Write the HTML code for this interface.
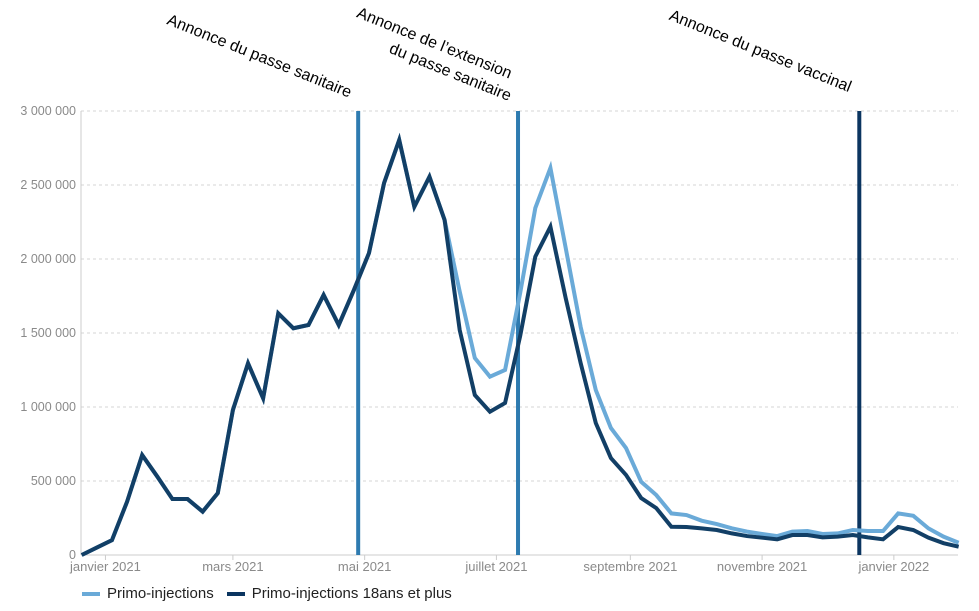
<!DOCTYPE html>
<html><head><meta charset="utf-8"><style>
body{margin:0;background:#fff;width:979px;height:611px;overflow:hidden;font-family:"Liberation Sans",sans-serif}
.ann{position:absolute;font-size:16px;color:#000;white-space:nowrap;transform:translate(-50%,-50%) rotate(22deg)}
</style></head><body>
<div class="ann" style="left:259px;top:57px">Annonce du passe sanitaire</div>
<div class="ann" style="left:434px;top:44px">Annonce de l’extension</div>
<div class="ann" style="left:450px;top:73px">du passe sanitaire</div>
<div class="ann" style="left:760px;top:52px">Annonce du passe vaccinal</div>
<svg id="chart" width="979" height="611" style="position:absolute;left:0;top:0"></svg>
<script>
const yTicks=[0,500000,1000000,1500000,2000000,2500000,3000000];
const yTickLabels=["0","500 000","1 000 000","1 500 000","2 000 000","2 500 000","3 000 000"];
const xTickDays=[11,70,131,192,254,315,376];
const xTickLabels=["janvier 2021","mars 2021","mai 2021","juillet 2021","septembre 2021","novembre 2021","janvier 2022"];
const eventDays=[128,202,360];
const dark=[0,50,100,360,675,530,378,378,293,418,980,1295,1059,1633,1532,1554,1757,1554,1790,2040,2514,2804,2353,2556,2264,1520,1081,968,1027,1480,2016,2218,1740,1297,892,655,541,385,317,191,189,180,169,146,128,117,106,135,135,119,124,135,119,106,189,169,117,80,56];
const light=[0,50,100,360,675,530,378,378,293,418,980,1295,1059,1633,1532,1554,1757,1554,1790,2040,2514,2804,2353,2556,2264,1780,1331,1205,1250,1770,2344,2615,2080,1541,1115,858,723,495,405,281,270,232,209,180,158,142,128,158,162,142,146,169,162,162,281,265,180,124,83];
const ns="http://www.w3.org/2000/svg",svg=document.getElementById('chart');
const x0=81.7,pxDay=2.16,y0=555,y1=111;
const xd=d=>x0+d*pxDay, xi=i=>x0+i*15.12, y=v=>y0-(v/3000000)*(y0-y1);
function mk(t,a){const e=document.createElementNS(ns,t);for(const k in a)e.setAttribute(k,a[k]);svg.appendChild(e);return e;}
yTicks.forEach((v,i)=>{
 if(v>0){const g=mk('line',{x1:81,x2:958,y1:y(v),y2:y(v),stroke:'#d4d4d4','stroke-dasharray':'3,3'});
 }
 const t=mk('text',{x:76,y:y(v)+4,'text-anchor':'end','font-size':12.5,fill:'#8a8a8a'});t.textContent=yTickLabels[i];
 
});
const ax=mk('line',{x1:81,x2:958,y1:555,y2:555,stroke:'#ccc'});

const ay=mk('line',{x1:81,x2:81,y1:111,y2:555,stroke:'#ccc'});

xTickDays.forEach((d,i)=>{
 const tk=mk('line',{x1:xd(d),x2:xd(d),y1:555,y2:560,stroke:'#ccc'});
 
 const t=mk('text',{x:xd(d),y:571,'text-anchor':'middle','font-size':13,fill:'#8a8a8a'});t.textContent=xTickLabels[i];
 
});
const evCol=['#2e7bb0','#2e7bb0','#0b3560'];
eventDays.forEach((d,i)=>{
 const l=mk('line',{x1:xd(d),x2:xd(d),y1:111,y2:555,stroke:evCol[i],'stroke-width':4});
 
});
function series(arr,col,name){
 const p=mk('polyline',{points:arr.map((v,i)=>xi(i)+','+y(v*1000)).join(' '),fill:'none',stroke:col,'stroke-width':4,'stroke-linejoin':'miter'});
 
}
series(light,'#6aaad8','series-primo-injections');
series(dark,'#123f66','series-primo-injections-18ans');
</script>
<div style="position:absolute;left:82px;top:585px;font-size:15px;color:#222;display:flex;align-items:center">
 <span style="display:flex;align-items:center"><span style="width:18px;height:4px;background:#6aaad8;display:inline-block;margin-right:7px"></span>Primo-injections</span>
 <span style="display:flex;align-items:center;margin-left:13px"><span style="width:18px;height:4px;background:#0b3560;display:inline-block;margin-right:7px"></span>Primo-injections 18ans et plus</span>
</div>
</body></html>
